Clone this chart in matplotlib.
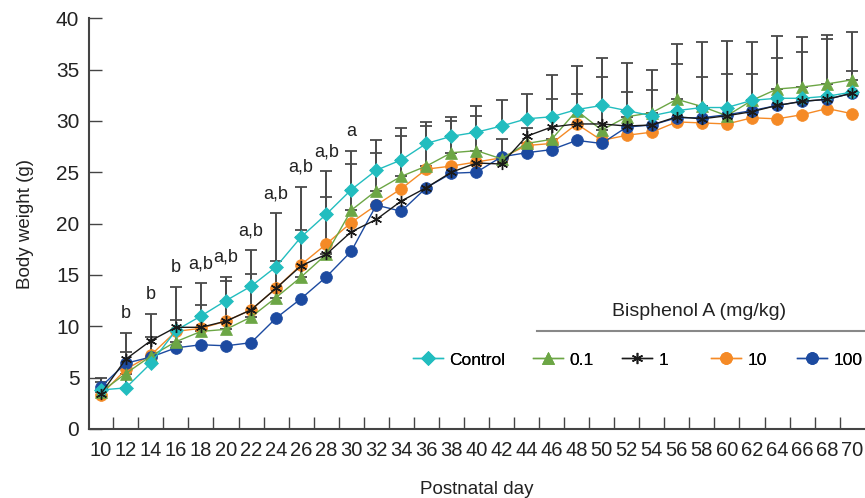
import numpy as np
import matplotlib.pyplot as plt
from matplotlib.lines import Line2D

# ---------------------------------------------------------------
#  Data
# ---------------------------------------------------------------
days = list(range(10, 72, 2))

control = [3.8, 4.0, 6.4, 9.6, 11.0, 12.5, 13.9, 15.8, 18.7, 20.9,
           23.3, 25.2, 26.2, 27.8, 28.5, 28.9, 29.5, 30.2, 30.4, 31.1,
           31.5, 31.0, 30.5, 31.0, 31.3, 31.3, 32.0, 32.2, 32.2, 32.4, 32.8]
bpa_01 = [3.6, 5.4, 7.1, 8.5, 9.5, 9.7, 10.9, 12.8, 14.8, 17.0,
          21.3, 23.2, 24.6, 25.6, 26.9, 27.1, 26.3, 27.8, 28.2, 31.0,
          29.1, 30.4, 30.8, 32.1, 31.4, 30.5, 32.0, 33.1, 33.3, 33.6, 34.0]
bpa_1 = [3.4, 6.8, 8.6, 9.9, 9.9, 10.5, 11.6, 13.7, 15.9, 17.0,
         19.2, 20.4, 22.2, 23.5, 25.0, 25.9, 25.8, 28.5, 29.4, 29.7,
         29.7, 29.5, 29.6, 30.4, 30.2, 30.5, 30.9, 31.5, 31.9, 32.1, 32.7]
bpa_10 = [3.3, 5.8, 7.2, 9.5, 9.8, 10.5, 11.6, 13.7, 16.0, 18.0,
          20.1, 21.8, 23.4, 25.3, 25.6, 26.0, 26.4, 27.6, 27.8, 29.7,
          28.1, 28.6, 28.9, 29.9, 29.8, 29.7, 30.3, 30.2, 30.6, 31.2, 30.7]
bpa_100 = [4.1, 6.4, 7.0, 7.9, 8.2, 8.1, 8.4, 10.8, 12.7, 14.8,
           17.3, 21.8, 21.2, 23.5, 24.9, 25.0, 26.5, 26.9, 27.2, 28.1,
           27.8, 29.4, 29.6, 30.3, 30.3, 30.6, 31.0, 31.5, 31.9, 32.1, 32.7]

# tops of the error bars (mean + SD)
err_top = [5.0, 9.3, 11.2, 13.8, 14.2, 14.8, 17.4, 21.0, 23.6, 25.1,
           27.1, 28.1, 29.3, 29.9, 30.4, 31.4, 32.0, 32.6, 34.5, 35.3,
           36.1, 35.6, 35.0, 37.5, 37.7, 37.8, 37.7, 38.3, 38.2, 38.4, 38.7]
err_mid = [4.6, 7.5, 9.0, 10.6, 12.1, 14.4, 15.1, 16.4, 19.4, 22.6,
           25.8, 26.9, 28.5, 29.5, 30.0, 30.5, 28.2, 29.3, 32.1, 32.6,
           34.3, 32.8, 33.0, 35.5, 34.3, 34.6, 34.6, 36.1, 36.7, 38.0, 34.9]

sig_days = [12, 14, 16, 18, 20, 22, 24, 26, 28, 30]
sig_labels = ['b', 'b', 'b', 'a,b', 'a,b', 'a,b', 'a,b', 'a,b', 'a,b', 'a']

series = [
    ('Control', control, '#22bdbf', 'D', 7.5),
    ('0.1', bpa_01, '#6ca645', '^', 8.5),
    ('1', bpa_1, '#1a1a1a', (6, 2, 0), 8),
    ('10', bpa_10, '#f58a26', 'o', 8.5),
    ('100', bpa_100, '#1c4aa0', 'o', 8.5),
]
zorders = {'Control': 6, '0.1': 5, '1': 7, '10': 3, '100': 4}
legend_x = [413, 533, 622, 711, 797]      # left edge of each legend entry (px)

plt.rcParams['font.family'] = ['Liberation Sans', 'DejaVu Sans']

fig = plt.figure(figsize=(8.65, 4.98), dpi=100)
ax = fig.add_axes([0.1029, 0.1386, 0.8959, 0.8249])

x = np.arange(len(days))

# error bars (upper only)
for top, ref in ((err_top, control), (err_mid, bpa_01)):
    up = np.clip(np.array(top) - np.array(ref), 0, None)
    ax.errorbar(x, ref, yerr=[np.zeros_like(up), up], fmt='none',
                ecolor='#4a4a4a', elinewidth=1.4, capsize=4, capthick=1.3,
                zorder=1)

handles = []
for name, vals, col, mk, ms in series:
    ln, = ax.plot(x, vals, color=col, lw=1.0, marker=mk, markersize=ms,
                  markerfacecolor=col, markeredgecolor=col,
                  markeredgewidth=1.0 if mk == (6, 2, 0) else 0.5,
                  zorder=zorders[name], label=name)
    handles.append(ln)

# significance letters
for d, lab in zip(sig_days, sig_labels):
    i = days.index(d)
    ax.text(x[i], err_top[i] + 1.9, lab, ha='center', va='center',
            fontsize=13, color='#222222')

ax.set_xlim(-0.47, len(days) - 0.53)
ax.set_ylim(0, 40)
ax.set_yticks(range(0, 41, 5))
ax.set_xticks(x)
ax.set_xticklabels([str(d) for d in days],
                   fontfamily=['Liberation Sans Narrow', 'Liberation Sans'])
ax.set_xticks(x[:-1] + 0.5, minor=True)
ax.tick_params(axis='x', which='major', length=0, pad=9, labelsize=14.5,
               colors='#222222')
ax.tick_params(axis='x', which='minor', direction='in', length=9, width=1,
               color='#444444')
ax.tick_params(axis='y', direction='in', length=9, width=1, pad=7,
               labelsize=15, color='#444444', labelcolor='#222222')

for s in ('top', 'right'):
    ax.spines[s].set_visible(False)
for s in ('left', 'bottom'):
    ax.spines[s].set_color('#444444')
    ax.spines[s].set_linewidth(1.5)

ax.set_ylabel('Body weight (g)', fontsize=13.5, color='#222222', labelpad=16)
ax.set_xlabel('Postnatal day', fontsize=13.5, color='#222222', labelpad=15)

# legend with group heading
fig.text(699 / 865, 1 - 311 / 498, 'Bisphenol A (mg/kg)', ha='center',
         va='center', fontsize=14, color='#222222')
fig.add_artist(Line2D([537 / 865, 864 / 865], [1 - 331 / 498, 1 - 331 / 498],
                      color='#888888', lw=1.5, transform=fig.transFigure))
for h, lx in zip(handles, legend_x):
    leg = fig.legend(handles=[h], loc='center left',
                     bbox_to_anchor=(lx / 865, 1 - 360 / 498),
                     frameon=False, fontsize=12.5, handlelength=1.7,
                     handletextpad=0.4, borderpad=0, borderaxespad=0)
    fig.add_artist(leg)

fig.savefig('out.png', dpi=100)
